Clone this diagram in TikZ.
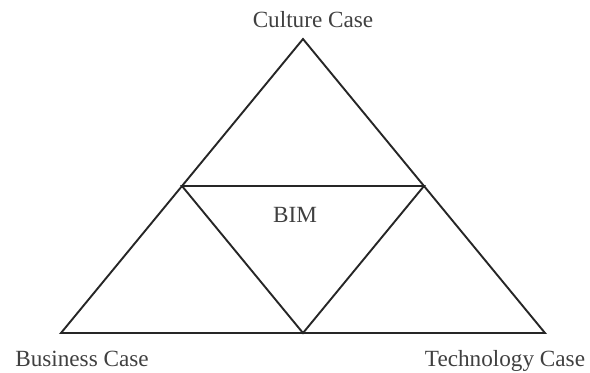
\documentclass[tikz,border=0pt]{standalone}
\usepackage{fontspec}
\setmainfont{Liberation Serif}
\tikzset{edge/.style={draw=black!85,line width=.95pt,line join=miter},
lab/.style={font=\fontsize{11.6}{13}\selectfont,text=black!75,inner sep=0pt,anchor=base}}

\begin{document}
\begin{tikzpicture}[x=.5pt,y=-.5pt]
\useasboundingbox (0,0) rectangle (590,372);
% corners of the big triangle and midpoints
\coordinate (top) at (303,39);
\coordinate (bl) at (61,333);
\coordinate (br) at (545,333);
\coordinate (ml) at (182,186);
\coordinate (mr) at (424,186);
\coordinate (mb) at (303,333);
\draw[edge] (top) -- (bl) -- (br) -- cycle;
\draw[edge] (ml) -- (mr) -- (mb) -- cycle;
\node[lab] (culture) at (313,27) {Culture Case};
\node[lab] (bim) at (295,222) {BIM};
\node[lab] (business) at (82,366) {Business Case};
\node[lab] (technology) at (505,366) {Technology Case};
\end{tikzpicture}
\end{document}
